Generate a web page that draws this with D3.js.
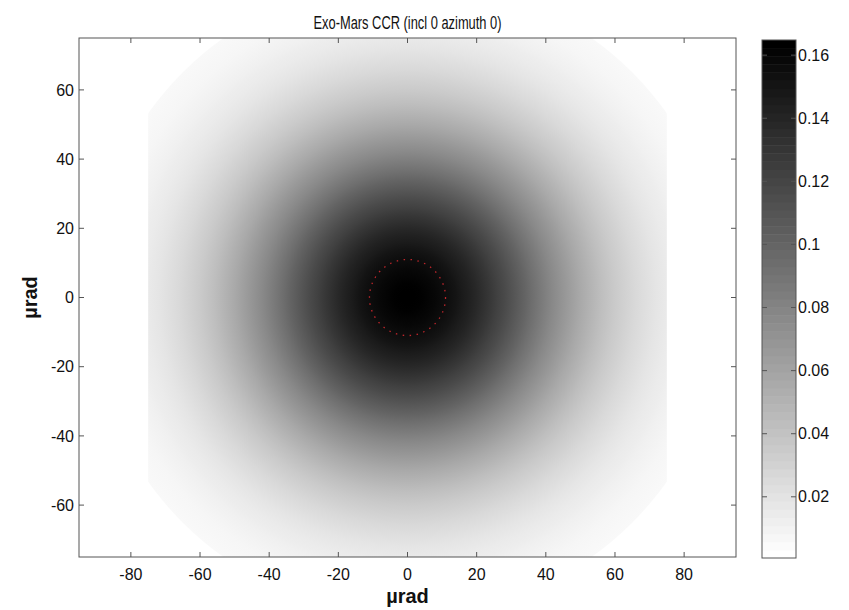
<!DOCTYPE html>
<html>
<head>
<meta charset="utf-8">
<script src="https://cdn.jsdelivr.net/npm/d3@7"></script>
<style>
  body { margin: 0; background: #fff; }
  text { font-family: "Liberation Sans", Arial, sans-serif; fill: #111; }
</style>
</head>
<body>
<div id="chart"></div>
<script>
// radial profile of the CCR pattern (µrad, intensity)
var radii = [0, 2, 4, 6, 8, 10, 12, 14, 16, 18, 20, 22, 24, 26, 28, 30, 32, 34, 36, 38,
             40, 42, 44, 46, 48, 50, 52, 54, 56, 58, 60, 62, 64, 66, 68, 70, 72, 74, 76, 78,
             80, 82, 84, 86, 88, 90, 92, 94];
var intensity = [0.165, 0.1647, 0.1639, 0.1624, 0.1605, 0.158, 0.155, 0.1516, 0.1477, 0.1434,
                 0.1388, 0.1338, 0.1286, 0.1232, 0.1175, 0.1118, 0.106, 0.1001, 0.0942, 0.0884,
                 0.0826, 0.0769, 0.0714, 0.0661, 0.0609, 0.056, 0.0512, 0.0467, 0.0425, 0.0385,
                 0.0348, 0.0313, 0.0281, 0.0251, 0.0223, 0.0198, 0.0175, 0.0154, 0.0136, 0.0119,
                 0.0104, 0.009, 0.0078, 0.0067, 0.0058, 0.005, 0.0042, 0.0036];

var apertureHalf = 75;    // data limited to |x|,|y| <= 75
var apertureRadius = 92;  // and r <= 92
var markerRadius = 11;    // red dotted circle

var xTicks = [-80, -60, -40, -20, 0, 20, 40, 60, 80];
var yTicks = [-60, -40, -20, 0, 20, 40, 60];
var cbarTicks = [0.02, 0.04, 0.06, 0.08, 0.1, 0.12, 0.14, 0.16];
var cbarRange = [0.0006, 0.1648];

var width = 849, height = 610;
var margin = {top: 38, left: 79, right: 113, bottom: 53};

var svg = d3.select("#chart").append("svg")
    .attr("width", width)
    .attr("height", height);

var x = d3.scaleLinear().domain([-95, 95]).range([margin.left, width - margin.right]);
var y = d3.scaleLinear().domain([-75, 75]).range([height - margin.bottom, margin.top]);
var px = function (r) { return x(r) - x(0); };

// flipped gray map, 64 levels like matlab (used on the colorbar)
var levels = d3.range(64).map(function (i) {
    var v = Math.round(255 * (1 - i / 63));
    return d3.rgb(v, v, v).toString();
});
var gray = d3.scaleLinear().domain(cbarRange).range(["#ffffff", "#000000"]).clamp(true);

var defs = svg.append("defs");
defs.append("clipPath").attr("id", "sq")
    .append("rect")
    .attr("x", x(-apertureHalf))
    .attr("y", y(apertureHalf))
    .attr("width", x(apertureHalf) - x(-apertureHalf))
    .attr("height", y(-apertureHalf) - y(apertureHalf));
defs.append("clipPath").attr("id", "plotarea")
    .append("rect")
    .attr("x", x(-95)).attr("y", y(75))
    .attr("width", x(95) - x(-95))
    .attr("height", y(-75) - y(75));

// radial gradient built from the profile
var rMax = radii[radii.length - 1];
var grad = defs.append("radialGradient")
    .attr("id", "psf")
    .attr("gradientUnits", "userSpaceOnUse")
    .attr("cx", x(0)).attr("cy", y(0))
    .attr("r", px(rMax));
grad.selectAll("stop")
    .data(radii.map(function (r, i) { return {r: r, v: intensity[i]}; }))
    .enter().append("stop")
    .attr("offset", function (d) { return d.r / rMax; })
    .attr("stop-color", function (d) { return gray(d.v); });

// field: square aperture cut by circle
svg.append("g").attr("clip-path", "url(#plotarea)")
    .append("g").attr("clip-path", "url(#sq)")
    .append("circle")
    .attr("cx", x(0)).attr("cy", y(0))
    .attr("r", px(apertureRadius))
    .attr("fill", "url(#psf)");

// red dotted circle
svg.append("circle")
    .attr("cx", x(0)).attr("cy", y(0))
    .attr("r", px(markerRadius))
    .attr("fill", "none")
    .attr("stroke", "#c0262b")
    .attr("stroke-width", 1.3)
    .attr("stroke-dasharray", "1.5,5.5");

// axes box + ticks (inside, all sides)
var axisColor = "#555";
svg.append("rect")
    .attr("x", x(-95)).attr("y", y(75))
    .attr("width", x(95) - x(-95))
    .attr("height", y(-75) - y(75))
    .attr("fill", "none")
    .attr("stroke", axisColor);

var tickLen = 5;
xTicks.forEach(function (t) {
    svg.append("line").attr("x1", x(t)).attr("x2", x(t))
        .attr("y1", y(-75)).attr("y2", y(-75) - tickLen).attr("stroke", axisColor);
    svg.append("line").attr("x1", x(t)).attr("x2", x(t))
        .attr("y1", y(75)).attr("y2", y(75) + tickLen).attr("stroke", axisColor);
    svg.append("text")
        .attr("x", x(t)).attr("y", y(-75) + 23)
        .attr("text-anchor", "middle")
        .style("font-size", "16px")
        .text(t);
});
yTicks.forEach(function (t) {
    svg.append("line").attr("x1", x(-95)).attr("x2", x(-95) + tickLen)
        .attr("y1", y(t)).attr("y2", y(t)).attr("stroke", axisColor);
    svg.append("line").attr("x1", x(95)).attr("x2", x(95) - tickLen)
        .attr("y1", y(t)).attr("y2", y(t)).attr("stroke", axisColor);
    svg.append("text")
        .attr("x", x(-95) - 5).attr("y", y(t))
        .attr("dy", "0.35em")
        .attr("text-anchor", "end")
        .style("font-size", "16px")
        .text(t);
});

// title and labels
svg.append("text")
    .attr("x", x(0)).attr("y", 29)
    .attr("text-anchor", "middle")
    .attr("textLength", 188)
    .attr("lengthAdjust", "spacingAndGlyphs")
    .style("font-size", "17.5px")
    .text("Exo-Mars CCR (incl 0 azimuth 0)");

svg.append("text")
    .attr("x", x(0)).attr("y", 603)
    .attr("text-anchor", "middle")
    .style("font-size", "20px")
    .style("font-weight", "bold")
    .text("µrad");

svg.append("text")
    .attr("transform", "translate(37," + y(0) + ") rotate(-90)")
    .attr("text-anchor", "middle")
    .style("font-size", "20px")
    .style("font-weight", "bold")
    .text("µrad");

// colorbar
var cb = {x0: 762, x1: 796, top: 40, bottom: 558};
var cy = d3.scaleLinear().domain(cbarRange).range([cb.bottom, cb.top]);
var step = (cbarRange[1] - cbarRange[0]) / levels.length;
svg.append("g").selectAll("rect")
    .data(levels)
    .enter().append("rect")
    .attr("x", cb.x0)
    .attr("width", cb.x1 - cb.x0)
    .attr("y", function (d, i) { return cy(cbarRange[0] + (i + 1) * step); })
    .attr("height", function (d, i) { return cy(cbarRange[0] + i * step) - cy(cbarRange[0] + (i + 1) * step) + 0.5; })
    .attr("fill", function (d) { return d; });

svg.append("rect")
    .attr("x", cb.x0).attr("y", cb.top)
    .attr("width", cb.x1 - cb.x0)
    .attr("height", cb.bottom - cb.top)
    .attr("fill", "none")
    .attr("stroke", axisColor);

var fmt = d3.format("~g");
cbarTicks.forEach(function (t) {
    svg.append("line").attr("x1", cb.x0).attr("x2", cb.x0 + tickLen)
        .attr("y1", cy(t)).attr("y2", cy(t)).attr("stroke", axisColor);
    svg.append("line").attr("x1", cb.x1).attr("x2", cb.x1 - tickLen)
        .attr("y1", cy(t)).attr("y2", cy(t)).attr("stroke", axisColor);
    svg.append("text")
        .attr("x", cb.x1 + 2).attr("y", cy(t))
        .attr("dy", "0.35em")
        .style("font-size", "16px")
        .text(fmt(t));
});
</script>
</body>
</html>
